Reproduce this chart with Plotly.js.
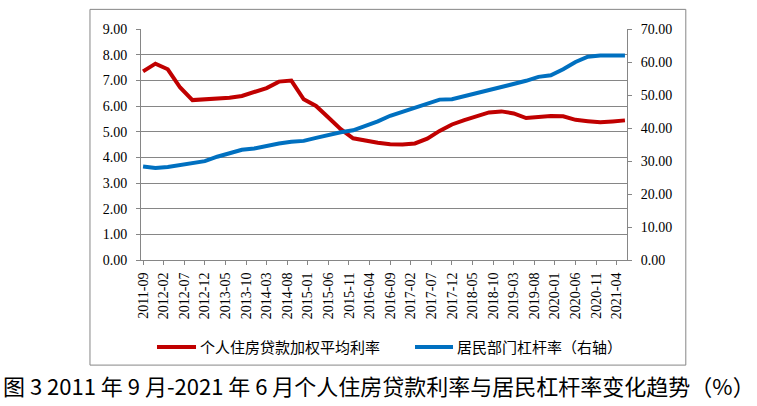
<!DOCTYPE html>
<html>
<head>
<meta charset="utf-8">
<script src="https://cdn.plot.ly/plotly-3.0.1.min.js"></script>
<style>html,body{margin:0;padding:0;background:#fff;}#chart{width:757px;height:406px;}</style>
</head>
<body>
<div id="chart"></div>
<script>
// Quarter-end observation dates
var quarters = [
  "2011-09","2011-12","2012-03","2012-06","2012-09","2012-12","2013-03","2013-06","2013-09","2013-12",
  "2014-03","2014-06","2014-09","2014-12","2015-03","2015-06","2015-09","2015-12","2016-03","2016-06",
  "2016-09","2016-12","2017-03","2017-06","2017-09","2017-12","2018-03","2018-06","2018-09","2018-12",
  "2019-03","2019-06","2019-09","2019-12","2020-03","2020-06","2020-09","2020-12","2021-03","2021-06"
];
// 个人住房贷款加权平均利率 (left axis, %)
var mortgageRate = [
  7.35,7.65,7.43,6.72,6.23,6.25,6.29,6.32,6.39,6.55,
  6.70,6.95,6.99,6.26,6.00,5.55,5.10,4.74,4.64,4.57,
  4.51,4.50,4.54,4.73,5.03,5.28,5.45,5.61,5.75,5.79,
  5.71,5.53,5.58,5.61,5.60,5.46,5.41,5.37,5.40,5.44
];
// 居民部门杠杆率 (right axis, %)
var leverage = [
  28.35,27.9,28.2,28.85,29.6,29.96,31.3,32.5,33.4,33.8,
  34.7,35.3,35.8,36.1,37.0,37.9,38.7,39.3,40.6,42.0,
  43.7,45.0,46.3,47.5,48.6,48.7,49.6,50.5,51.5,52.2,
  53.2,54.3,55.5,56.0,57.8,60.0,61.6,62.0,62.0,62.0
];
// x-axis tick labels
var tickLabels = [
  "2011-09","2012-02","2012-07","2012-12","2013-05","2013-10","2014-03","2014-08",
  "2015-01","2015-06","2015-11","2016-04","2016-09","2017-02","2017-07","2017-12",
  "2018-05","2018-10","2019-03","2019-08","2020-01","2020-06","2020-11","2021-04"
];
var seriesNames = ["个人住房贷款加权平均利率","居民部门杠杆率（右轴）"];
var seriesColors = ["#C00000","#0070C0"];
var caption = "图 3 2011 年 9 月-2021 年 6 月个人住房贷款利率与居民杠杆率变化趋势（%）";

// monthly category axis (structure only)
var months = [];
for (var y = 2011, m = 9; y < 2021 || (y === 2021 && m <= 6); ) {
  months.push(y + "-" + (m < 10 ? "0" + m : m));
  m++; if (m > 12) { m = 1; y++; }
}

var gridC = "#868686";
var tickFont = {family: "Liberation Serif", size: 14, color: "#000"};
var legFont = {family: "Noto Sans CJK SC", size: 15, color: "#000"};

var traces = [
  {x: quarters, y: mortgageRate, name: seriesNames[0], type: "scatter", mode: "lines",
   line: {color: seriesColors[0], width: 4}, yaxis: "y"},
  {x: quarters, y: leverage, name: seriesNames[1], type: "scatter", mode: "lines",
   line: {color: seriesColors[1], width: 4}, yaxis: "y2"}
];

// manual legend (paper coords)
var legY = -0.3766;
var legItems = [
  {x0: 0.0329, x1: 0.1132, tx: 0.1173},
  {x0: 0.5638, x1: 0.6420, tx: 0.6461}
];
var shapes = [
  {type: "rect", xref: "paper", yref: "paper", x0: -0.105, x1: 1.121, y0: -0.455, y1: 1.085,
   line: {color: gridC, width: 1}, fillcolor: "rgba(0,0,0,0)", layer: "below"}
];
var annotations = [
  {text: caption, xref: "paper", yref: "paper", x: 0.4887, y: -0.54, xanchor: "center", yanchor: "middle",
   showarrow: false, font: {family: "Noto Sans CJK SC", size: 22, color: "#000"}}
];
legItems.forEach(function (it, k) {
  shapes.push({type: "line", xref: "paper", yref: "paper", x0: it.x0, x1: it.x1, y0: legY, y1: legY,
    line: {color: seriesColors[k], width: 4}});
  annotations.push({text: seriesNames[k], xref: "paper", yref: "paper", x: it.tx, y: legY,
    xanchor: "left", yanchor: "middle", showarrow: false, font: legFont});
});

var layout = {
  width: 757, height: 406,
  margin: {l: 141, r: 130, t: 29, b: 146, pad: 0},
  paper_bgcolor: "#fff", plot_bgcolor: "#fff",
  showlegend: false,
  xaxis: {type: "category", categoryorder: "array", categoryarray: months,
    range: [-0.5, months.length - 0.5], tickmode: "array", tickvals: tickLabels, ticktext: tickLabels,
    tickangle: -90, tickfont: tickFont, ticks: "outside", ticklen: 4, tickcolor: gridC,
    showline: true, linecolor: gridC, linewidth: 1, showgrid: false, zeroline: false,
    ticklabelstandoff: 2, automargin: false},
  yaxis: {range: [0, 9], dtick: 1, tick0: 0, tickformat: ".2f", tickfont: tickFont,
    ticks: "outside", ticklen: 4, tickcolor: gridC, showline: true, linecolor: gridC, linewidth: 1,
    showgrid: true, gridcolor: gridC, gridwidth: 1, zeroline: false, ticklabelstandoff: 6, automargin: false},
  yaxis2: {range: [0, 70], dtick: 10, tick0: 0, tickformat: ".2f", tickfont: tickFont,
    overlaying: "y", side: "right", ticks: "outside", ticklen: 4, tickcolor: gridC,
    showline: true, linecolor: gridC, linewidth: 1, showgrid: false, zeroline: false, ticklabelstandoff: 6,
    automargin: false},
  shapes: shapes,
  annotations: annotations
};

Plotly.newPlot("chart", traces, layout, {displayModeBar: false, staticPlot: true});
</script>
</body>
</html>
